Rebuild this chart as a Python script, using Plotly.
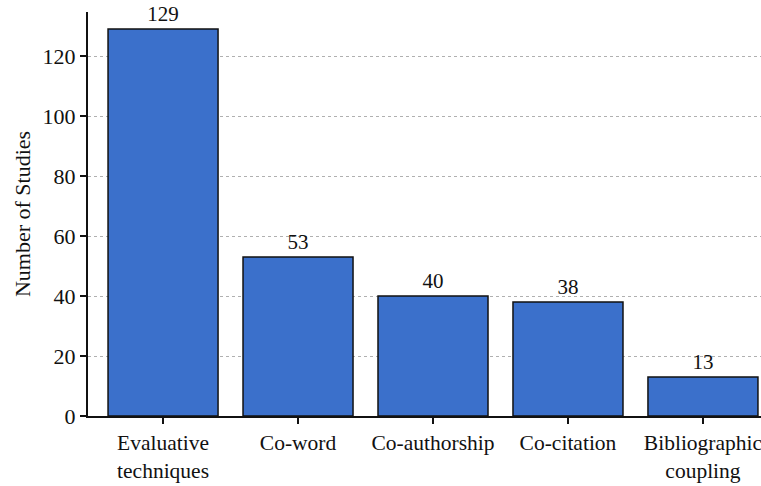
import plotly.graph_objects as go

categories = ["Evaluative<br>techniques", "Co-word", "Co-authorship", "Co-citation", "Bibliographic<br>coupling"]
studies = [129, 53, 40, 38, 13]
y_ticks = [0, 20, 40, 60, 80, 100, 120]

serif = "Liberation Serif, Times New Roman, serif"

fig = go.Figure(
    go.Bar(
        x=list(range(len(categories))),
        y=studies,
        width=0.815,
        marker=dict(color="#3b70cb", line=dict(color="#111111", width=1.5)),
        text=[str(v) for v in studies],
        textposition="outside",
        cliponaxis=False,
        textfont=dict(family=serif, size=21, color="#111111"),
    )
)

fig.update_layout(
    width=761,
    height=486,
    margin=dict(l=88, r=0, t=12, b=70, autoexpand=False),
    paper_bgcolor="white",
    plot_bgcolor="white",
    showlegend=False,
    font=dict(family=serif, size=22, color="#111111"),
)

fig.update_xaxes(
    range=[-0.556, 4.43],
    tickmode="array",
    tickvals=list(range(len(categories))),
    ticktext=categories,
    ticks="outside",
    ticklen=6,
    tickwidth=1.5,
    tickcolor="#111111",
    showline=True,
    linecolor="#111111",
    linewidth=2,
    showgrid=False,
    zeroline=False,
    automargin=False,
    ticklabeloverflow="allow",
    tickfont=dict(family=serif, size=21.5, color="#111111"),
)

fig.update_yaxes(
    range=[0, 134.7],
    tickmode="array",
    tickvals=y_ticks,
    ticks="outside",
    ticklen=6,
    tickwidth=1.5,
    tickcolor="#111111",
    showline=True,
    linecolor="#111111",
    linewidth=2,
    showgrid=True,
    gridcolor="#b0b0b0",
    griddash="dot",
    gridwidth=1,
    zeroline=False,
    automargin=False,
    tickfont=dict(family=serif, size=22, color="#111111"),
    title=dict(text="Number of Studies", font=dict(family=serif, size=22, color="#111111"), standoff=6),
)

fig.write_html("out.html")
